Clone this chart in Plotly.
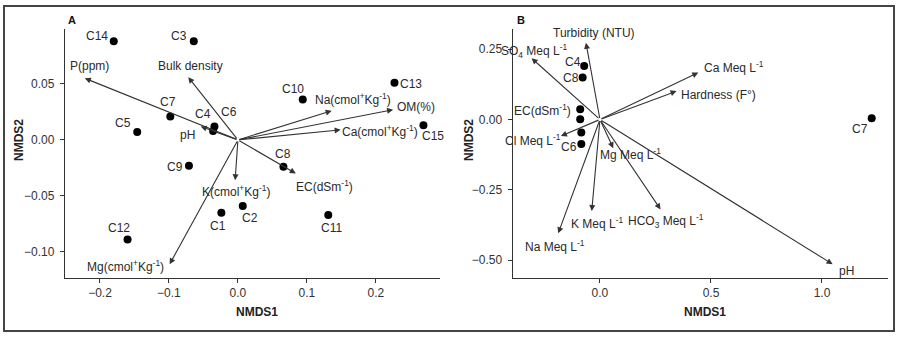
import plotly.graph_objects as go

# ---------------- Panel A data ----------------
A_sites = ["C14", "C3", "C13", "C10", "C15", "C7", "C5", "C4", "C6", "C9", "C8", "C1", "C2", "C11", "C12"]
A_site_x = [-0.180, -0.064, 0.227, 0.094, 0.269, -0.098, -0.146, -0.034, -0.036, -0.071, 0.066, -0.024, 0.007, 0.131, -0.160]
A_site_y = [0.088, 0.088, 0.051, 0.036, 0.013, 0.021, 0.007, 0.012, 0.008, -0.023, -0.024, -0.065, -0.059, -0.067, -0.089]

A_vars = ["P(ppm)", "Bulk density", "Na(cmol<sup>+</sup>Kg<sup>-1</sup>)", "OM(%)",
          "Ca(cmol<sup>+</sup>Kg<sup>-1</sup>)", "EC(dSm<sup>-1</sup>)", "K(cmol<sup>+</sup>Kg<sup>-1</sup>)",
          "Mg(cmol<sup>+</sup>Kg<sup>-1</sup>)", "pH"]
A_var_x = [-0.222, -0.072, 0.136, 0.225, 0.149, 0.084, -0.004, -0.099, -0.054]
A_var_y = [0.055, 0.056, 0.026, 0.027, 0.009, -0.030, -0.036, -0.111, 0.012]

A_xticks = [-0.2, -0.1, 0.0, 0.1, 0.2]
A_yticks = [-0.10, -0.05, 0.00, 0.05]

# ---------------- Panel B data ----------------
B_sites = ["C4", "C8", "EC(dSm<sup>-1</sup>)", "", "", "C6", "C7"]
B_site_x = [-0.071, -0.078, -0.089, -0.089, -0.084, -0.084, 1.224]
B_site_y = [0.190, 0.149, 0.036, 0.001, -0.046, -0.087, 0.004]

B_vars = ["Turbidity (NTU)", "SO<sub>4</sub> Meq L<sup>-1</sup>", "Ca Meq L<sup>-1</sup>", "Hardness (F°)",
          "Cl Meq L<sup>-1</sup>", "Mg Meq L<sup>-1</sup>", "Na Meq L<sup>-1</sup>", "K Meq L<sup>-1</sup>",
          "HCO<sub>3</sub> Meq L<sup>-1</sup>", "pH"]
B_var_x = [-0.063, -0.308, 0.443, 0.345, -0.176, 0.060, -0.188, -0.037, 0.273, 1.048]
B_var_y = [0.273, 0.218, 0.167, 0.101, -0.059, -0.102, -0.405, -0.326, -0.320, -0.515]

B_xticks = [0.0, 0.5, 1.0]
B_yticks = [-0.50, -0.25, 0.00, 0.25]

# ---------------- label placement (style) ----------------
# (xanchor, xshift, yshift)
A_site_lab = [("right", -5, 5), ("right", -6, 5), ("left", 5, -1), ("center", -10, 11), ("center", 10, -11),
              ("center", -2, 14), ("center", -14, 9), ("center", -11, 12), ("center", 16, 19),
              ("right", -5, -1), ("center", 0, 13), ("center", -3, -13), ("center", 7, -12),
              ("center", 3, -13), ("center", -9, 12)]
A_var_lab = [("center", 5, 12), ("center", 2, 11), ("center", 21, 12), ("left", 3, 3), ("left", 0, -1),
             ("left", -1, -12), ("center", 1, -11), ("right", -5, -2), ("center", -13, -9)]
B_site_lab = [("right", -2, 4), ("right", -3, 0), ("right", -8, -1), ("center", 0, 0), ("center", 0, 0),
              ("right", -3, -3), ("center", -12, -11)]
B_var_lab = [("center", 8, 10), ("center", 2, 7), ("left", 5, 6), ("left", 3, -4), ("right", 1, -4),
             ("left", -14, -6), ("center", -3, -13), ("center", 5, -12), ("center", 5, -12), ("center", 14, -7)]

FONT = "Liberation Sans, Arial, sans-serif"
FS = 12
TXT = "#2a2a2a"
LINE = "#333333"

fig = go.Figure()

fig.add_trace(go.Scatter(x=A_site_x, y=A_site_y, mode="markers", xaxis="x", yaxis="y",
                         marker=dict(color="black", size=8), hoverinfo="skip", showlegend=False))
fig.add_trace(go.Scatter(x=B_site_x, y=B_site_y, mode="markers", xaxis="x2", yaxis="y2",
                         marker=dict(color="black", size=8), hoverinfo="skip", showlegend=False))

ann = []


def add_labels(names, xs, ys, places, xr, yr):
    for n, x, y, (anc, dx, dy) in zip(names, xs, ys, places):
        if not n:
            continue
        ann.append(dict(x=x, y=y, xref=xr, yref=yr, text=n, showarrow=False, xanchor=anc,
                        yanchor="middle", xshift=dx, yshift=dy, borderpad=0,
                        font=dict(family=FONT, size=FS, color=TXT)))


def add_arrows(xs, ys, xr, yr):
    for x, y in zip(xs, ys):
        ann.append(dict(x=x, y=y, xref=xr, yref=yr, ax=0, ay=0, axref=xr, ayref=yr, text="",
                        showarrow=True, arrowhead=2, arrowsize=1.1, arrowwidth=1.1,
                        arrowcolor=LINE, standoff=0, startstandoff=0))


add_arrows(A_var_x, A_var_y, "x", "y")
add_arrows(B_var_x, B_var_y, "x2", "y2")
add_labels(A_sites, A_site_x, A_site_y, A_site_lab, "x", "y")
add_labels(A_vars, A_var_x, A_var_y, A_var_lab, "x", "y")
add_labels(B_sites, B_site_x, B_site_y, B_site_lab, "x2", "y2")
add_labels(B_vars, B_var_x, B_var_y, B_var_lab, "x2", "y2")

W, H = 902, 340


def px(xp):
    return xp / W


def py(yp):
    return 1 - yp / H


# panel letters and axis titles
for t, x, y in [("A", 72, 20), ("B", 521, 20)]:
    ann.append(dict(x=px(x), y=py(y), xref="paper", yref="paper", text="<b>%s</b>" % t, showarrow=False,
                    xanchor="center", yanchor="middle", font=dict(family=FONT, size=11, color="#111")))
for x in [257, 705]:
    ann.append(dict(x=px(x), y=py(312), xref="paper", yref="paper", text="<b>NMDS1</b>", showarrow=False,
                    xanchor="center", yanchor="middle", font=dict(family=FONT, size=12, color="#222")))
for x in [19, 469]:
    ann.append(dict(x=px(x), y=py(140), xref="paper", yref="paper", text="<b>NMDS2</b>", showarrow=False,
                    textangle=-90, xanchor="center", yanchor="middle",
                    font=dict(family=FONT, size=12, color="#222")))

axis_common = dict(showgrid=False, zeroline=False, showline=True, linecolor=LINE, linewidth=1.3,
                   ticks="outside", ticklen=4, tickwidth=1, tickcolor=LINE,
                   tickfont=dict(family=FONT, size=FS, color="#333"))

fig.update_layout(
    width=W, height=H, margin=dict(l=0, r=0, t=0, b=0),
    paper_bgcolor="white", plot_bgcolor="white", showlegend=False,
    xaxis=dict(domain=[px(65), px(440)], range=[-0.2507, 0.293], tickvals=A_xticks, tickformat=".1f",
               anchor="y", **axis_common),
    yaxis=dict(domain=[py(277.7), py(29)], range=[-0.123, 0.099], tickvals=A_yticks, tickformat=".2f",
               anchor="x", ticklabelstandoff=3, **axis_common),
    xaxis2=dict(domain=[px(512.7), px(887.7)], range=[-0.393, 1.296], tickvals=B_xticks, tickformat=".1f",
                anchor="y2", **axis_common),
    yaxis2=dict(domain=[py(277.7), py(29)], range=[-0.563, 0.322], tickvals=B_yticks, tickformat=".2f",
                anchor="x2", ticklabelstandoff=3, **axis_common),
    annotations=ann,
    shapes=[dict(type="rect", xref="paper", yref="paper", x0=px(4), x1=px(894), y0=py(331), y1=py(6),
                 line=dict(color="#444", width=2), fillcolor="rgba(0,0,0,0)", layer="below")],
)

fig.write_html("out.html", config={"displayModeBar": False},
               post_script="document.body.style.margin='0';")
